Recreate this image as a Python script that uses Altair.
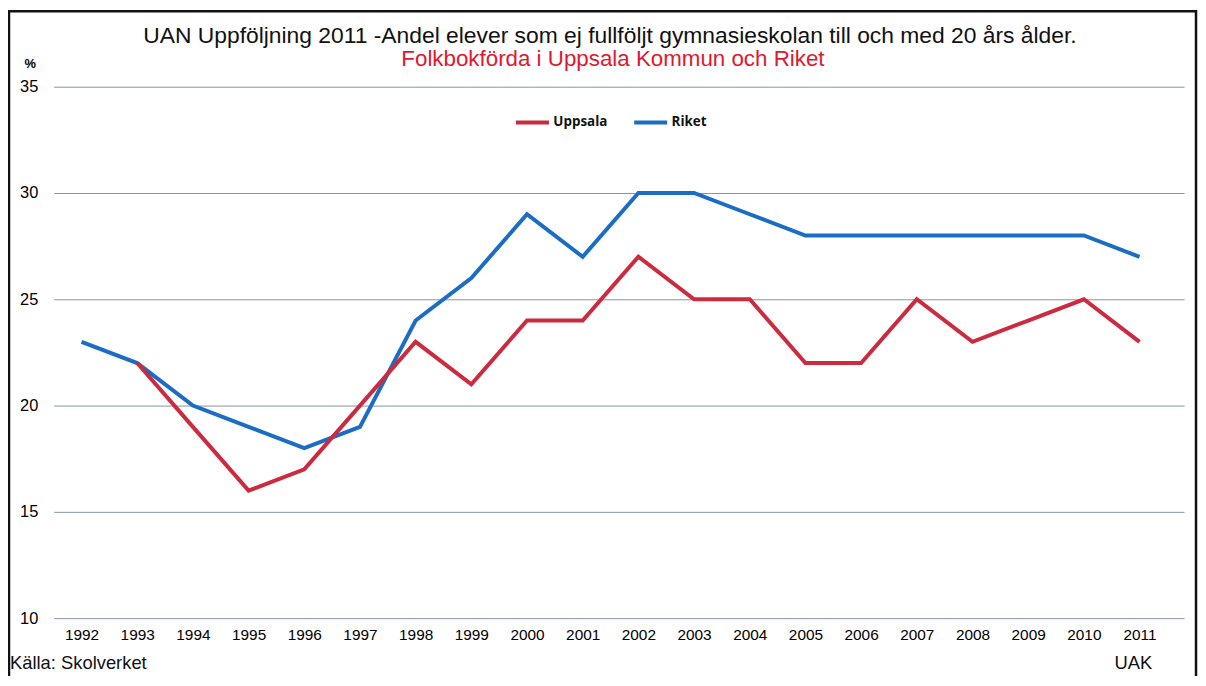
import altair as alt
import pandas as pd

years = list(range(1992, 2012))
uppsala = [None, 22, 19, 16, 17, 20, 23, 21, 24, 24, 27, 25, 25, 22, 22, 25, 23, 24, 25, 23]
riket = [23, 22, 20, 19, 18, 19, 24, 26, 29, 27, 30, 30, 29, 28, 28, 28, 28, 28, 28, 27]
series_names = ["Uppsala", "Riket"]
series_colors = ["#cc2a3e", "#1b6dc3"]
y_ticks = [10, 15, 20, 25, 30, 35]

title_text = "UAN Uppföljning 2011 -Andel elever som ej fullföljt gymnasieskolan till och med 20 års ålder."
subtitle_text = "Folkbokförda i Uppsala Kommun och Riket"
source_text = "Källa: Skolverket"
org_text = "UAK"

rows = []
for yr, u, r in zip(years, uppsala, riket):
    if u is not None:
        rows.append({"year": yr, "value": u, "serie": "Uppsala"})
    if r is not None:
        rows.append({"year": yr, "value": r, "serie": "Riket"})
df = pd.DataFrame(rows)

W, H = 1138, 535
FONT = "Liberation Sans"

lines = alt.Chart(df).mark_line(strokeWidth=4, strokeJoin="miter").encode(
    x=alt.X("year:Q",
            scale=alt.Scale(domain=[1991.5, 2011.8], nice=False, zero=False),
            axis=alt.Axis(values=years, format="d", grid=False, ticks=False, domain=False,
                          labelFontSize=15.5, labelPadding=10, labelFlush=False,
                          labelColor="#000", title=None, labelFont=FONT)),
    y=alt.Y("value:Q",
            scale=alt.Scale(domain=[10, 35], nice=False, zero=False),
            axis=alt.Axis(values=y_ticks, grid=True, gridColor="#8592aa", gridWidth=1,
                          ticks=False, domain=False, labelFontSize=16.5, labelPadding=16,
                          labelColor="#000", labelFont=FONT,
                          title="%", titleAngle=0, titleX=-24, titleY=-23,
                          titleFontSize=13, titleFont=FONT, titleFontWeight="bold",
                          titleColor="#000", titleAlign="center", titleBaseline="middle")),
    color=alt.Color("serie:N",
                    scale=alt.Scale(domain=series_names, range=series_colors),
                    legend=alt.Legend(orient="none", legendX=463, legendY=17,
                                      direction="horizontal", title=None,
                                      symbolType="stroke", symbolSize=1100,
                                      symbolStrokeWidth=4, labelFontSize=13.5,
                                      labelFontWeight="bold", labelFont="Open Sans",
                                      labelColor="#111", labelOffset=2,
                                      columnPadding=18)),
    order=alt.Order("year:Q"),
)

def label(text, x, y, size, color="#111", align="left", weight="normal"):
    return alt.Chart(pd.DataFrame({"t": [text]})).mark_text(
        align=align, baseline="alphabetic", fontSize=size, font=FONT,
        color=color, fontWeight=weight
    ).encode(x=alt.value(x), y=alt.value(y), text="t:N")

title = label(title_text, 560, -44, 23, align="center")
subtitle = label(subtitle_text, 563, -21, 22.5, color="#e0182f", align="center")
source = label(source_text, -44, 586, 18.5)
org = label(org_text, 1087, 586, 18.5, align="center")

frame = alt.Chart(pd.DataFrame({"a": [0]})).mark_rect(
    fillOpacity=0, stroke="#111", strokeWidth=2.5
).encode(x=alt.value(-45), x2=alt.value(W + 12), y=alt.value(-76), y2=alt.value(H + 120))

chart = alt.layer(frame, lines, title, subtitle, source, org).properties(
    width=W, height=H,
    autosize=alt.AutoSizeParams(type="none"),
    padding={"left": 46, "top": 77, "right": 14, "bottom": 56},
).configure(font=FONT, background="white").configure_view(stroke=None)

chart.save("out.html", embed_options={"renderer": "svg", "actions": False})
